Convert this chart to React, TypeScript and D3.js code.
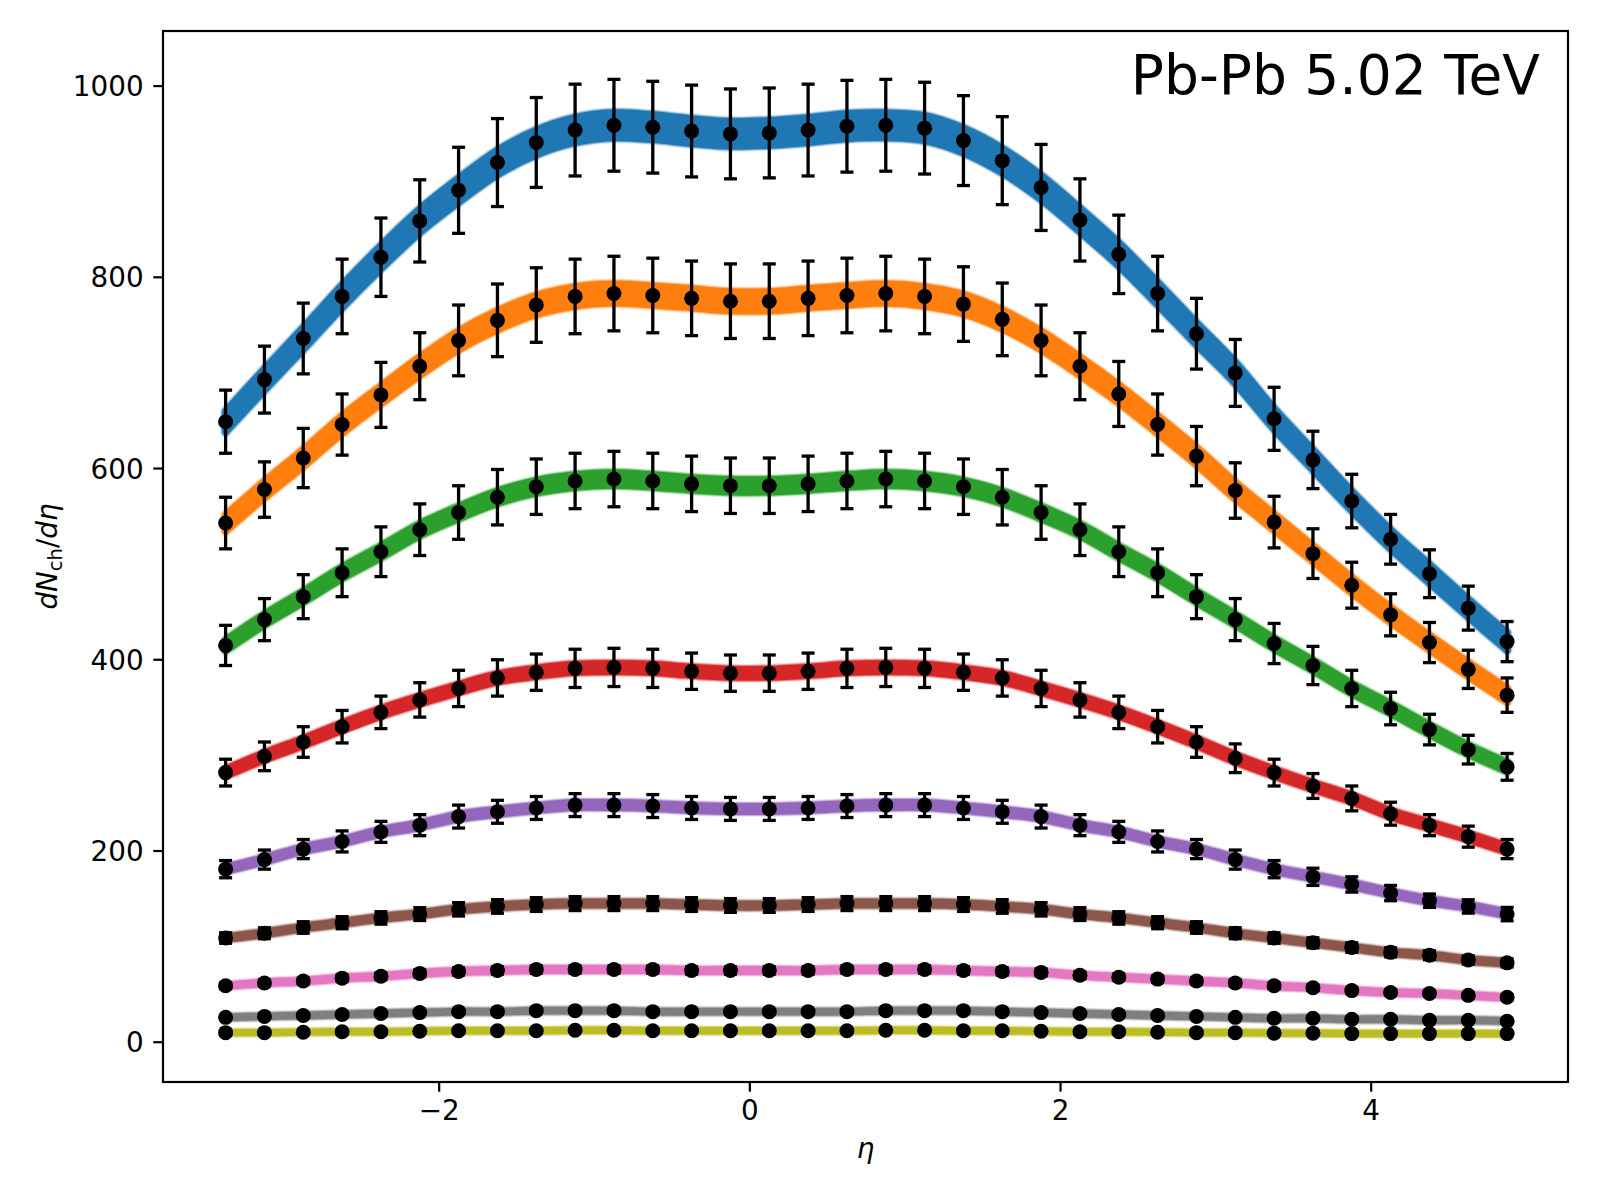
import React from "react";
import * as d3 from "d3";

// pseudorapidity bin centres
const eta = [
  -3.375, -3.125, -2.875, -2.625, -2.375, -2.125, -1.875, -1.625, -1.375, -1.125, -0.875, -0.625,
  -0.375, -0.125, 0.125, 0.375, 0.625, 0.875, 1.125, 1.375, 1.625, 1.875, 2.125, 2.375,
  2.625, 2.875, 3.125, 3.375, 3.625, 3.875, 4.125, 4.375, 4.625, 4.875,
];

// dNch/deta per centrality class (most central first)
const c0 = [649, 693, 736, 780, 821, 859, 891, 920, 941, 954, 959, 957, 953, 950, 951, 954, 958, 959, 956, 943, 922, 894, 860, 824, 783, 741, 700, 652, 609, 566, 526, 490, 454, 419];
const c1 = [543, 578, 611, 646, 677, 707, 734, 755, 771, 780, 783, 781, 778, 775, 775, 778, 781, 783, 780, 772, 756, 734, 707, 678, 646, 613, 577, 544, 511, 478, 447, 418, 390, 363];
const c2 = [415, 442, 466, 491, 513, 536, 554, 570, 581, 587, 589, 587, 584, 582, 582, 584, 587, 589, 587, 581, 570, 554, 536, 513, 491, 466, 442, 417, 394, 370, 349, 327, 306, 288];
const c3 = [282, 299, 314, 330, 345, 358, 370, 381, 387, 391, 392, 391, 388, 386, 386, 388, 391, 392, 391, 387, 381, 370, 358, 345, 330, 314, 297, 282, 268, 255, 239, 227, 215, 202];
const c4 = [181, 191, 202, 210, 220, 227, 236, 241, 245, 248, 248, 247, 245, 244, 244, 245, 247, 248, 248, 245, 241, 236, 227, 220, 210, 202, 191, 181, 173, 165, 156, 148, 142, 134];
const c5 = [109, 114, 120, 125, 130, 134, 139, 142, 144, 145, 145, 145, 144, 143, 143, 144, 145, 145, 145, 144, 142, 139, 134, 130, 125, 120, 114, 109, 104, 99, 94, 91, 86, 83];
const c6 = [59, 62, 64, 67, 69, 72, 74, 75, 76, 76, 76, 76, 75, 75, 75, 75, 76, 76, 76, 75, 74, 73, 70, 68, 66, 64, 62, 59, 57, 54, 52, 51, 49, 47];
const c7 = [26, 27, 28, 29, 30, 31, 32, 32, 33, 33, 33, 32, 32, 32, 32, 32, 32, 33, 33, 33, 32, 31, 30, 29, 28, 27, 26, 25, 25, 24, 24, 23, 23, 22];
const c8 = [10, 10, 10.5, 11, 11, 11.5, 12, 12, 12, 12.5, 12.5, 12, 12, 12, 12, 12, 12, 12.5, 12.5, 12, 12, 11.5, 11, 11, 10.5, 10, 10, 9.5, 9.5, 9, 9, 9, 9, 9];

// uncertainties on the data points
const e0 = [33, 35, 37, 39, 41, 43, 45, 46, 47, 48, 48, 48, 48, 47, 47, 48, 48, 48, 48, 47, 46, 45, 43, 41, 39, 37, 35, 33, 30, 28, 26, 25, 23, 21];
const e1 = [27, 29, 31, 32, 34, 35, 37, 38, 39, 39, 39, 39, 39, 39, 39, 39, 39, 39, 39, 39, 38, 37, 35, 34, 32, 31, 29, 27, 26, 24, 22, 21, 20, 18];
const e2 = [21, 22, 23, 25, 26, 27, 28, 29, 29, 29, 29, 29, 29, 29, 29, 29, 29, 29, 29, 29, 29, 28, 27, 26, 25, 23, 22, 21, 20, 19, 17, 16, 15, 14];
const e3 = [14, 15, 16, 17, 17, 18, 19, 19, 19, 20, 20, 20, 19, 19, 19, 19, 20, 20, 20, 19, 19, 19, 18, 17, 17, 16, 15, 14, 13, 13, 12, 11, 11, 10];
const e4 = [9, 10, 10, 11, 11, 11, 12, 12, 12, 12, 12, 12, 12, 12, 12, 12, 12, 12, 12, 12, 12, 12, 11, 11, 11, 10, 10, 9, 9, 8, 8, 7, 7, 7];
const e5 = [5.5, 5.7, 6, 6.3, 6.5, 6.7, 7, 7.1, 7.2, 7.3, 7.3, 7.3, 7.2, 7.2, 7.2, 7.2, 7.3, 7.3, 7.3, 7.2, 7.1, 7, 6.7, 6.5, 6.3, 6, 5.7, 5.5, 5.2, 5, 4.7, 4.6, 4.3, 4.2];
const e6 = [3, 3.1, 3.2, 3.4, 3.5, 3.6, 3.7, 3.8, 3.8, 3.8, 3.8, 3.8, 3.8, 3.8, 3.8, 3.8, 3.8, 3.8, 3.8, 3.8, 3.7, 3.7, 3.5, 3.4, 3.3, 3.2, 3.1, 3, 2.9, 2.7, 2.6, 2.6, 2.5, 2.4];
const e7 = [1.3, 1.4, 1.4, 1.5, 1.5, 1.6, 1.6, 1.6, 1.7, 1.7, 1.7, 1.6, 1.6, 1.6, 1.6, 1.6, 1.6, 1.7, 1.7, 1.7, 1.6, 1.6, 1.5, 1.5, 1.4, 1.4, 1.3, 1.3, 1.3, 1.2, 1.2, 1.2, 1.2, 1.1];
const e8 = [0.5, 0.5, 0.5, 0.6, 0.6, 0.6, 0.6, 0.6, 0.6, 0.6, 0.6, 0.6, 0.6, 0.6, 0.6, 0.6, 0.6, 0.6, 0.6, 0.6, 0.6, 0.6, 0.6, 0.6, 0.5, 0.5, 0.5, 0.5, 0.5, 0.5, 0.5, 0.5, 0.5, 0.5];

// half width of the model posterior band per class, at the plateau
const bandHalf = [13, 10, 6.5, 4.2, 2.6, 1.6, 1, 0.5, 0.2];

const classes = [c0, c1, c2, c3, c4, c5, c6, c7, c8];
const errors = [e0, e1, e2, e3, e4, e5, e6, e7, e8];
const colors = ["#1f77b4", "#ff7f0e", "#2ca02c", "#d62728", "#9467bd", "#8c564b", "#e377c2", "#7f7f7f", "#bcbd22"];

const xTicks = [-2, 0, 2, 4];
const yTicks = [0, 200, 400, 600, 800, 1000];
const label = "Pb-Pb 5.02 TeV";

const W = 1600;
const H = 1200;
const box = { left: 163, right: 1568, top: 31, bottom: 1082 };
const font = "'DejaVu Sans', sans-serif";

export default function App() {
  const x = d3.scaleLinear().domain([-3.778, 5.267]).range([box.left, box.right]);
  const y = d3.scaleLinear().domain([-41.6, 1057.6]).range([box.bottom, box.top]);

  const bands = classes.map((vals, k) => {
    const peak = d3.max(vals) as number;
    // band narrows a bit where the yield drops
    const half = (v: number) => bandHalf[k] * (0.45 + 0.55 * (v / peak));
    const area = d3
      .area<number>()
      .x((_, i) => x(eta[i]))
      .y0((v) => y(v - half(v)))
      .y1((v) => y(v + half(v)))
      .curve(d3.curveCatmullRom.alpha(0.5));
    return area(vals) as string;
  });

  return (
    <svg width={W} height={H} style={{ position: "absolute", left: 0, top: 0, background: "#fff" }} fontFamily={font}>
      <rect x={0} y={0} width={W} height={H} fill="#fff" />
      <defs>
        <clipPath id="plotArea">
          <rect x={box.left} y={box.top} width={box.right - box.left} height={box.bottom - box.top} />
        </clipPath>
      </defs>

      <g clipPath="url(#plotArea)">
        {classes.map((vals, k) => (
          <g key={k}>
            <path d={bands[k]} fill={colors[k]} stroke={colors[k]} strokeOpacity={0.18} strokeWidth={11} strokeLinejoin="round" />
            <path d={bands[k]} fill={colors[k]} stroke={colors[k]} strokeOpacity={0.45} strokeWidth={9} strokeLinejoin="round" />
            <path d={bands[k]} fill={colors[k]} stroke={colors[k]} strokeWidth={7} strokeLinejoin="round" />
            {vals.map((v, i) => {
              const cx = x(eta[i]);
              const top = y(v + errors[k][i]);
              const bot = y(v - errors[k][i]);
              return (
                <g key={i} stroke="#000" strokeWidth={3.3}>
                  <line x1={cx} x2={cx} y1={top} y2={bot} />
                  <line x1={cx - 6.5} x2={cx + 6.5} y1={top} y2={top} />
                  <line x1={cx - 6.5} x2={cx + 6.5} y1={bot} y2={bot} />
                  <circle cx={cx} cy={y(v)} r={7.5} fill="#000" stroke="none" />
                </g>
              );
            })}
          </g>
        ))}
      </g>

      {/* frame */}
      <rect
        x={box.left}
        y={box.top}
        width={box.right - box.left}
        height={box.bottom - box.top}
        fill="none"
        stroke="#000"
        strokeWidth={2.2}
      />

      {/* x axis */}
      {xTicks.map((t) => (
        <g key={t} transform={`translate(${x(t)},${box.bottom})`}>
          <line y1={0} y2={9.7} stroke="#000" strokeWidth={2.2} />
          <text y={38} textAnchor="middle" fontSize={27.8} fill="#000">
            {t < 0 ? `\u2212${Math.abs(t)}` : t}
          </text>
        </g>
      ))}
      <text x={(box.left + box.right) / 2} y={1158} textAnchor="middle" fontSize={27.8} fontStyle="italic">
        η
      </text>

      {/* y axis */}
      {yTicks.map((t) => (
        <g key={t} transform={`translate(${box.left},${y(t)})`}>
          <line x1={0} x2={-9.7} stroke="#000" strokeWidth={2.2} />
          <text x={-19.4} dy="0.36em" textAnchor="end" fontSize={27.8} fill="#000">
            {t}
          </text>
        </g>
      ))}
      <text transform={`translate(57,${(box.top + box.bottom) / 2}) rotate(-90)`} textAnchor="middle" fontSize={27.8}>
        <tspan fontStyle="italic">dN</tspan>
        <tspan fontSize={19.5} dy={4.5}>ch</tspan>
        <tspan dy={-4.5}>/</tspan>
        <tspan fontStyle="italic">dη</tspan>
      </text>

      <text x={1540} y={94} textAnchor="end" fontSize={55} fill="#000">
        {label}
      </text>
    </svg>
  );
}
